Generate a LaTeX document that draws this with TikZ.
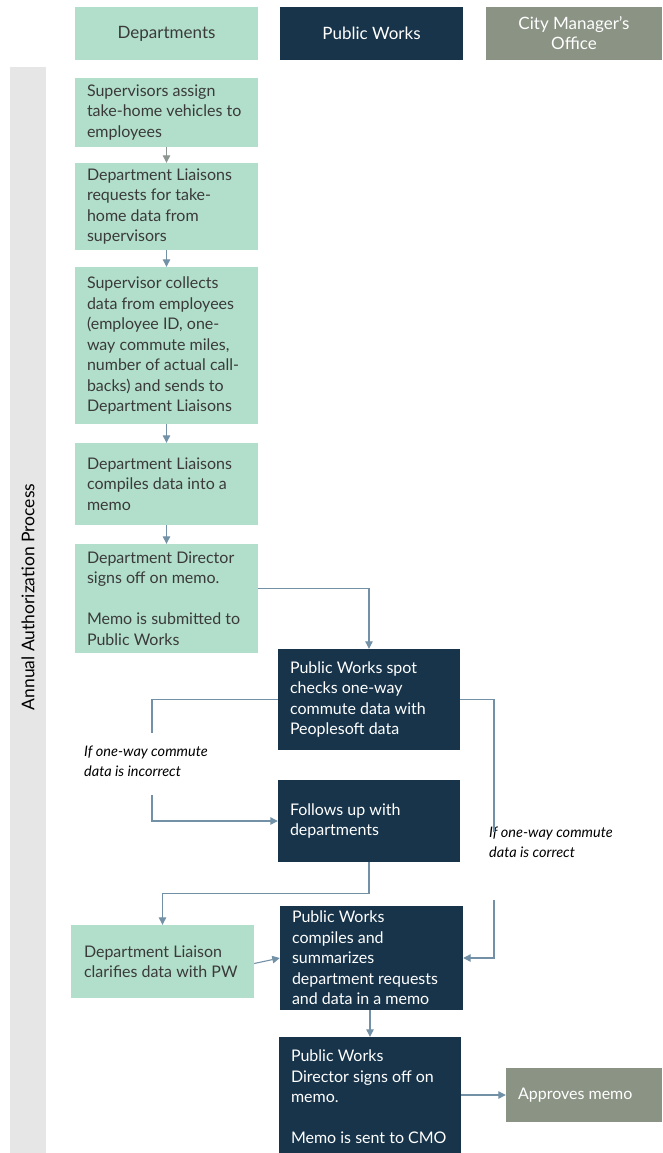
\documentclass[tikz,border=0pt]{standalone}
\usepackage{fontspec}
\setmainfont{Lato}
\usetikzlibrary{arrows.meta,calc}
\definecolor{lgreen}{HTML}{B2DFCB}
\definecolor{navy}{HTML}{17344A}
\definecolor{cmgray}{HTML}{8A9384}
\definecolor{barg}{HTML}{E6E6E6}
\definecolor{arr}{HTML}{7391A6}
\definecolor{arrg}{HTML}{8C9690}
\definecolor{txt}{HTML}{3A3A3A}
\begin{document}
\begin{tikzpicture}[x=1pt,y=-1pt,
  base/.style={rectangle,inner sep=0pt},
  gbox/.style={base,fill=lgreen},
  nbox/.style={base,fill=navy},
  cbox/.style={base,fill=cmgray},
  tx/.style={inner sep=0pt,anchor=west,align=left,font=\fontsize{16}{20.5}\selectfont},
  gtx/.style={tx,text=txt},
  wtx/.style={tx,text=white},
  hdr/.style={rectangle,inner sep=0pt,align=center,font=\fontsize{17}{20}\selectfont,minimum height=53},
  conn/.style={draw=arr,line width=1.1pt,-{Triangle[length=7.5pt,width=7.5pt]}},
  conng/.style={conn,draw=arrg},
  line/.style={draw=arr,line width=1.1pt},
  lbl/.style={inner sep=0pt,align=left,text=black,font=\fontsize{14.5}{19.5}\selectfont\itshape}]
\useasboundingbox (0,0) rectangle (662,1153);
% side bar
\fill[barg] (10,67) rectangle (46,1153);
\node[rotate=90,font=\fontsize{17.5}{20}\selectfont,text=black] (side) at (28,597) {Annual Authorization Process};
% headers
\node[hdr,fill=lgreen,text=txt,minimum width=183] (h1) at (166.5,33.5) {Departments};
\node[hdr,fill=navy,text=white,minimum width=183] (h2) at (371.5,33.5) {Public Works};
\node[hdr,fill=cmgray,text=white,minimum width=176] (h3) at (574,33.5) {City Manager's\\Office};
% boxes
\node[gbox,minimum width=183,minimum height=69] (b1) at (166.5,112.5) {};
\node[gtx] (t1) at ($(b1.west)+(12,0)$) {Supervisors assign\\take-home vehicles to\\employees};
\node[gbox,minimum width=183,minimum height=87] (b2) at (166.5,206.5) {};
\node[gtx] (t2) at ($(b2.west)+(12,0)$) {Department Liaisons\\requests for take-\\home data from\\supervisors};
\node[gbox,minimum width=183,minimum height=157] (b3) at (166.5,345.5) {};
\node[gtx] (t3) at ($(b3.west)+(12,0)$) {Supervisor collects\\data from employees\\(employee ID, one-\\way commute miles,\\number of actual call-\\backs) and sends to\\Department Liaisons};
\node[gbox,minimum width=183,minimum height=82] (b4) at (166.5,484) {};
\node[gtx] (t4) at ($(b4.west)+(12,0)$) {Department Liaisons\\compiles data into a\\memo};
\node[gbox,minimum width=183,minimum height=109] (b5) at (166.5,598.5) {};
\node[gtx] (t5) at ($(b5.west)+(12,0)$) {Department Director\\signs off on memo.\\[20.5pt]Memo is submitted to\\Public Works};
\node[nbox,minimum width=182,minimum height=101] (b6) at (369,699.5) {};
\node[wtx] (t6) at ($(b6.west)+(12,0)$) {Public Works spot\\checks one-way\\commute data with\\Peoplesoft data};
\node[nbox,minimum width=182,minimum height=82] (b7) at (369,821) {};
\node[wtx] (t7) at ($(b7.west)+(12,0)$) {Follows up with\\departments};
\node[gbox,minimum width=183,minimum height=73] (b8) at (162.5,961.5) {};
\node[gtx] (t8) at ($(b8.west)+(13,0)$) {Department Liaison\\clarifies data with PW};
\node[nbox,minimum width=183,minimum height=104] (b9) at (371.5,958) {};
\node[wtx] (t9) at ($(b9.west)+(12,0)$) {Public Works\\compiles and\\summarizes\\department requests\\and data in a memo};
\node[nbox,minimum width=182,minimum height=120] (b10) at (370,1097) {};
\node[wtx] (t10) at ($(b10.west)+(12,0)$) {Public Works\\Director signs off on\\memo.\\[20.5pt]Memo is sent to CMO};
\node[cbox,minimum width=156,minimum height=54] (b11) at (584,1095) {};
\node[wtx] (t11) at ($(b11.west)+(12,0)$) {Approves memo};
% labels
\node[lbl,anchor=north west] (l1) at (84,746) {If one-way commute\\data is incorrect};
\node[lbl,anchor=north west] (l2) at (489,827) {If one-way commute\\data is correct};
% connector coordinates
\coordinate (c1) at (152,733);
\coordinate (c2) at (152,795);
\coordinate (c3) at (494,832);
\coordinate (c4) at (494,900);
% connectors
\draw[conng] (b1) -- (b2);
\draw[conn] (b2) -- (b3);
\draw[conn] (b3) -- (b4);
\draw[conn] (b4) -- (b5);
\draw[conn] ($(b5.north east)+(0,45)$) -| (b6.north);
\draw[line] (b6.west) -| (c1);
\draw[conn] (c2) |- (b7.west);
\draw[line] (b6.east) -| (c3);
\draw[conn] (c4) |- (b9.east);
\draw[conn] (b7.south) -- ($(b7.south)+(0,31)$) -| (b8.north);
\draw[conn] ($(b8.east)+(0,2)$) -- (b9.west);
\draw[conn] (b9.south -| b10.north) -- (b10.north);
\draw[conn] (b10.east |- b11.west) -- (b11.west);
\end{tikzpicture}
\end{document}
